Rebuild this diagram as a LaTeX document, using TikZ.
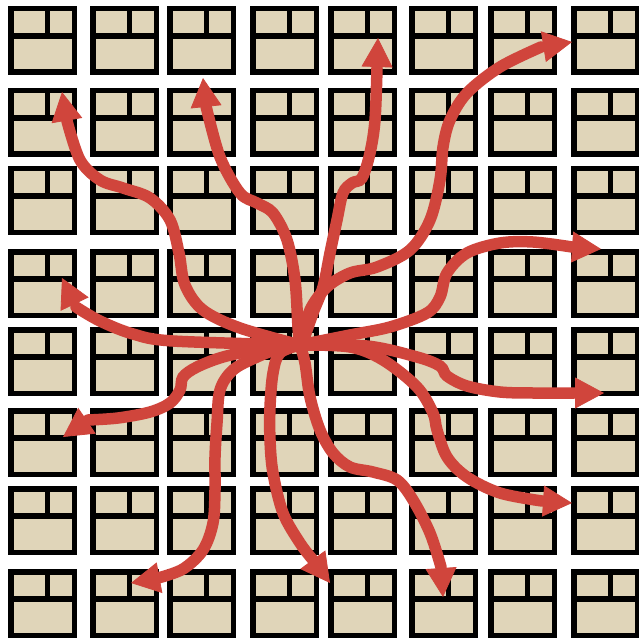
\documentclass[tikz,border=0pt]{standalone}
\usetikzlibrary{arrows.meta}
\definecolor{beige}{RGB}{224,213,185}
\definecolor{arrred}{RGB}{208,69,60}
\tikzset{
  winframe/.style={draw=black,fill=beige,line width=5.5pt},
  windiv/.style={draw=black,line width=5.5pt},
  flow/.style={draw=arrred,line width=11.5pt,line cap=round,smooth,tension=0.55},
  head/.style={draw=arrred,fill=arrred,line width=0.8pt,-{Triangle[length=29pt,width=31pt]}}
}
\begin{document}
\begin{tikzpicture}[x=1pt,y=-1pt]
\useasboundingbox (0,0) rectangle (638,639);
\fill[white] (0,0) rectangle (638,639);
\foreach \xx in {8,90,167,250,328,409,488,571}{
  \foreach \yy in {6,88,166,249,327,408,486,569}{
    \path[winframe] (\xx+2.75,\yy+2.75) rectangle (\xx+66.25,\yy+66.25);
    \draw[windiv] (\xx+2.75,\yy+30) -- (\xx+66.25,\yy+30);
    \draw[windiv] (\xx+39.5,\yy+2.75) -- (\xx+39.5,\yy+30);
  }
}
\coordinate (c) at (300,345);
% arrow heads: base point (hN) and tip (tN)
\coordinate (h1) at (67,121);  \coordinate (t1) at (62,92);
\coordinate (h2) at (206,106); \coordinate (t2) at (203,78);
\coordinate (h3) at (377,68);  \coordinate (t3) at (378,38);
\coordinate (h4) at (541,47);  \coordinate (t4) at (572,42);
\coordinate (h5) at (572,247); \coordinate (t5) at (601,249);
\coordinate (h6) at (574,393); \coordinate (t6) at (604,393);
\coordinate (h7) at (542,501); \coordinate (t7) at (572,503);
\coordinate (h8) at (441,567); \coordinate (t8) at (443,597);
\coordinate (h9) at (313,560); \coordinate (t9) at (330,583);
\coordinate (h10) at (158,578); \coordinate (t10) at (131,583);
\coordinate (h11) at (88,420); \coordinate (t11) at (63,437);
\coordinate (h12) at (76,307); \coordinate (t12) at (62,278);
% shafts
\draw[flow] plot coordinates {(c) (240,328) (203,310) (185,285) (179,253) (170,220) (150,198) (123,188) (100,180) (80,160) (h1)};
\draw[flow] plot coordinates {(c) (298,327) (295,280) (287,240) (273,213) (257,203) (240,193) (220,157) (h2)};
\draw[flow] plot coordinates {(302,345) (313,313) (323,287) (330,253) (337,220) (343,193) (352,183) (362,178) (370,153) (375,120) (h3)};
\draw[flow] plot coordinates {(c) (310,310) (327,287) (350,273) (377,267) (410,250) (430,220) (440,180) (443,147) (450,120) (467,93) (500,67) (h4)};
\draw[flow] plot coordinates {(c) (350,335) (390,327) (427,313) (440,297) (447,273) (467,253) (500,243) (533,242) (h5)};
\draw[flow] plot coordinates {(c) (367,346) (417,357) (440,366) (447,376) (467,386) (500,392) (533,393) (h6)};
\draw[flow] plot coordinates {(c) (350,347) (383,360) (417,387) (433,413) (437,430) (447,457) (467,477) (500,493) (h7)};
\draw[flow] plot coordinates {(c) (305,363) (310,397) (320,430) (333,453) (350,467) (373,472) (397,480) (413,500) (430,533) (h8)};
\draw[flow] plot coordinates {(c) (280,353) (273,373) (270,407) (270,440) (273,473) (283,513) (300,543) (h9)};
\draw[flow] plot coordinates {(c) (283,347) (257,357) (233,370) (220,390) (217,423) (215,457) (215,490) (213,523) (203,550) (183,569) (h10)};
\draw[flow] plot coordinates {(c) (257,350) (223,357) (197,367) (183,377) (180,390) (170,403) (150,412) (118,418) (h11)};
\draw[flow] plot coordinates {(c) (173,341) (133,334) (100,321) (h12)};
% heads
\foreach \n in {1,...,12}{
  \draw[head] (h\n) -- (t\n);
}
\end{tikzpicture}
\end{document}
